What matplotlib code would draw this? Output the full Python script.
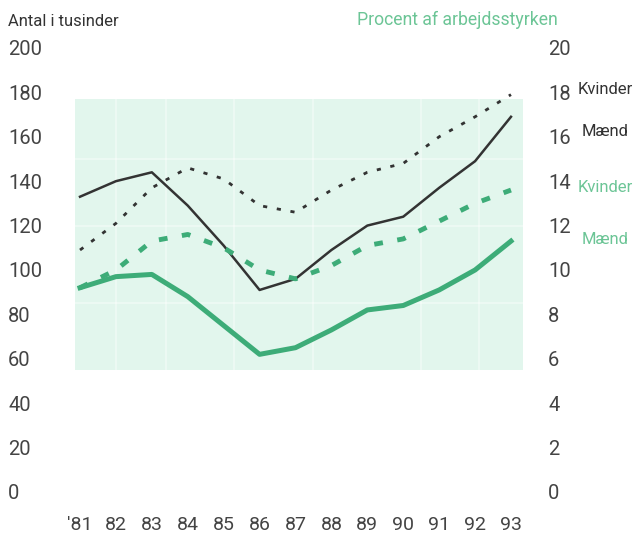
"""
Ledighed 1981-93: antal i tusinder (sorte linjer) og procent af
arbejdsstyrken (groenne linjer), kvinder og maend.
"""

import matplotlib
matplotlib.use('Agg')
import matplotlib.pyplot as plt
from matplotlib.patches import Rectangle

# Data
years = [81, 82, 83, 84, 85, 86, 87, 88, 89, 90, 91, 92, 93]
year_labels = ["'81", "82", "83", "84", "85", "86", "87", "88", "89", "90", "91", "92", "93"]

# Antal i tusinder
kvinder_antal = [109, 121, 137, 146, 141, 129, 126, 136, 144, 148, 160, 169, 179]
maend_antal = [133, 140, 144, 129, 111, 91, 96, 109, 120, 124, 137, 149, 169]

# Procent af arbejdsstyrken
kvinder_pct = [9.2, 10.0, 11.3, 11.6, 11.0, 10.0, 9.6, 10.2, 11.1, 11.4, 12.2, 13.0, 13.6]
maend_pct = [9.2, 9.7, 9.8, 8.8, 7.5, 6.2, 6.5, 7.3, 8.2, 8.4, 9.1, 10.0, 11.3]

left_ticks = [0, 20, 40, 60, 80, 100, 120, 140, 160, 180, 200]
right_ticks = [0, 2, 4, 6, 8, 10, 12, 14, 16, 18, 20]

BLACK = '#333333'
GREEN = '#3dac78'
TEXT_GREEN = '#6cc596'
MINT = '#e2f6ed'
TICK_COLOR = '#444444'

plt.rcParams['font.family'] = ['Roboto', 'DejaVu Sans']

fig = plt.figure(figsize=(6.37, 5.36), dpi=100)
ax = fig.add_axes([0.0942, 0.0614, 0.7378, 0.8698])
ax2 = ax.twinx()

ax.set_xlim(80.443, 93.529)
ax.set_ylim(-5, 205)
ax2.set_ylim(-0.5, 20.5)

# shaded background band with faint white grid
ax.add_patch(Rectangle((80.86, 55), 12.47, 122, facecolor=MINT,
                       edgecolor='none', zorder=0))
for x in [82.0, 83.4, 85.3, 87.5, 90.5, 92.1]:
    ax.plot([x, x], [55, 177], color='white', lw=1.2, alpha=0.45, zorder=0.5)
for y in [85, 120, 150]:
    ax.plot([80.86, 93.33], [y, y], color='white', lw=1.2, alpha=0.45, zorder=0.5)

# black lines (left axis)
ax.plot(years, maend_antal, color=BLACK, lw=1.8, zorder=3)
ax.plot(years, kvinder_antal, color=BLACK, lw=2.0, ls=(0, (1.5, 3.5)), zorder=3)

# green lines (right axis)
ax2.plot(years, maend_pct, color=GREEN, lw=3.6, solid_joinstyle='round', zorder=3)
ax2.plot(years, kvinder_pct, color=GREEN, lw=3.5, ls=(0, (1.8, 3.0)), zorder=3)

for a in (ax, ax2):
    for s in a.spines.values():
        s.set_visible(False)

ax.set_xticks(years)
ax.set_xticklabels(year_labels)
ax.tick_params(axis='x', length=0, pad=9, labelsize=14, labelcolor=TICK_COLOR)

ax.set_yticks(left_ticks)
ax.set_yticklabels([str(t) for t in left_ticks], ha='left')
ax.tick_params(axis='y', length=0, pad=37.4, labelsize=14.5, labelcolor=TICK_COLOR)

ax2.set_yticks(right_ticks)
ax2.set_yticklabels([str(t) for t in right_ticks])
ax2.tick_params(axis='y', length=0, pad=13, labelsize=14.5, labelcolor=TICK_COLOR)

# axis titles
fig.text(8 / 637, 1 - 22 / 536, 'Antal i tusinder', fontsize=12,
         color=BLACK, ha='left', va='center')
fig.text(357 / 637, 1 - 20 / 536, 'Procent af arbejdsstyrken', fontsize=12.7,
         color=TEXT_GREEN, ha='left', va='center')

# series labels
fig.text(578 / 637, 1 - 90 / 536, 'Kvinder', fontsize=12, color=BLACK,
         ha='left', va='center')
fig.text(582 / 637, 1 - 132 / 536, 'Mænd', fontsize=12, color=BLACK,
         ha='left', va='center')
fig.text(578 / 637, 1 - 187 / 536, 'Kvinder', fontsize=12, color=TEXT_GREEN,
         ha='left', va='center')
fig.text(582 / 637, 1 - 240 / 536, 'Mænd', fontsize=12, color=TEXT_GREEN,
         ha='left', va='center')

fig.savefig('out.png', dpi=100)
